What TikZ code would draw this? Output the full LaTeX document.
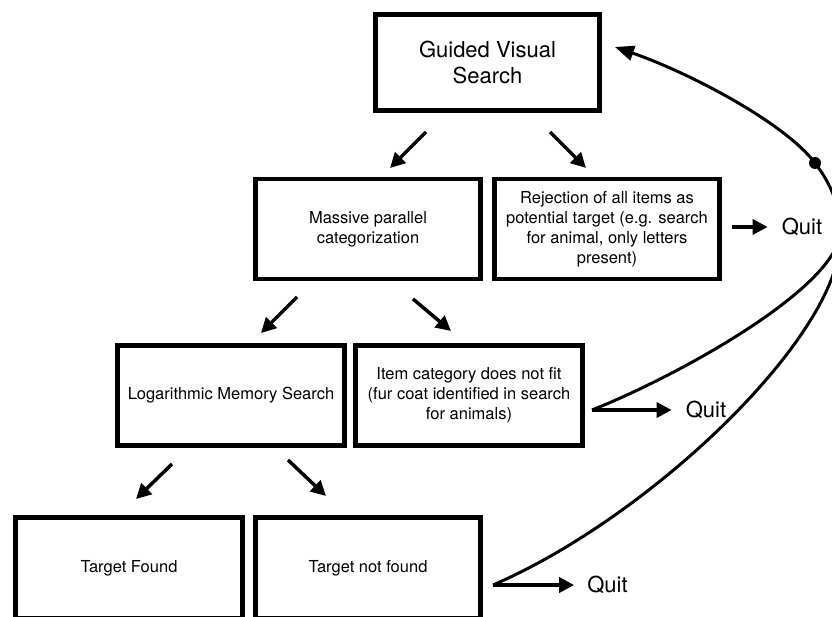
\documentclass[tikz,border=0pt]{standalone}
\usepackage{fontspec}
\setmainfont{TeX Gyre Heros}
\usetikzlibrary{arrows.meta}

\begin{document}
\begin{tikzpicture}[x=1pt,y=-1pt]
\tikzstyle{box}=[rectangle,draw,line width=4.8pt,align=center,inner sep=0pt,font=\fontsize{16.5}{20}\selectfont,minimum width=225.5pt,minimum height=100pt]
\tikzstyle{arrow}=[-{Triangle[length=15pt,width=15pt]},line width=3.5pt]
\tikzstyle{quit}=[inner sep=2pt,font=\fontsize{22}{26}\selectfont]
\tikzstyle{loop}=[line width=3pt]
\useasboundingbox (0,0) rectangle (832,617);
\clip (0,0) rectangle (832,617);
% boxes
\node (gvs) [box,minimum width=224.5pt,minimum height=96.5pt,font=\fontsize{22}{26}\selectfont] at (487.5,62.5) {Guided Visual\\Search};
\node (mpc) [box] at (368,229) {Massive parallel\\categorization};
\node (rej) [box] at (607,229) {Rejection of all items as\\potential target (e.g. search\\for animal, only letters\\present)};
\node (lms) [box,minimum width=227.5pt] at (231,395.5) {Logarithmic Memory Search};
\node (icat) [box,minimum width=227.5pt] at (469,395.5) {Item category does not fit\\(fur coat identified in search\\for animals)};
\node (tf) [box,minimum width=227.5pt,minimum height=101.5pt] at (129,568) {Target Found};
\node (tnf) [box,minimum height=101.5pt] at (368,568) {Target not found};
% quit
\node (quit1) [quit] at (802,227) {Quit};
\node (quit2) [quit] at (706,410) {Quit};
\node (quit3) [quit] at (607.5,585) {Quit};
\draw [arrow,shorten <=10pt,shorten >=12pt] (rej.east |- quit1) -- (quit1);
\coordinate (c2) at (592,410);
\coordinate (c3) at (493,585);
\draw [arrow,shorten >=12pt] (c2) -- (quit2.west);
\draw [arrow,shorten >=11pt] (c3) -- (quit3.west);
% down arrows
\coordinate (a1) at (426,132); \coordinate (b1) at (390,168);
\coordinate (a2) at (550,132); \coordinate (b2) at (586,168);
\coordinate (a3) at (297,297); \coordinate (b3) at (261,333);
\coordinate (a4) at (413,299); \coordinate (b4) at (451,331);
\coordinate (a5) at (172,464); \coordinate (b5) at (136,499);
\coordinate (a6) at (288,460); \coordinate (b6) at (326,496);
\foreach \i in {1,...,6} \draw [arrow] (a\i) -- (b\i);
% back to the search
\node (dot) [circle,fill,inner sep=0pt,minimum size=12pt] at (815,163) {};
\coordinate (merge) at (840,235);
\coordinate (back) at (615,47);
\draw [loop] (c2) .. controls (680,375) and (832,290) .. (merge);
\draw [loop,-{Triangle[length=19pt,width=15pt]}] (c3) .. controls (655,515) and (845,330) .. (merge) .. controls (841,205) and (830,183) .. (dot.center) .. controls (785,123) and (690,73) .. (back);
\end{tikzpicture}
\end{document}
